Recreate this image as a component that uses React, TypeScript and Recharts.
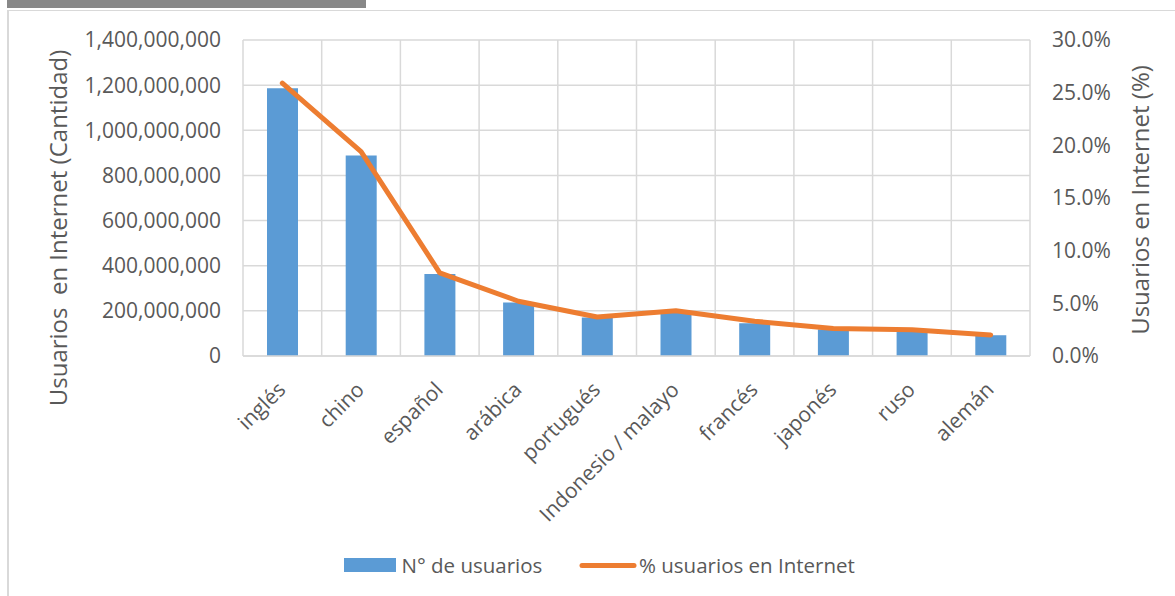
import React from 'react';
import { ComposedChart, Bar, Line, XAxis, YAxis, CartesianGrid, Customized } from 'recharts';

const categories = ['inglés', 'chino', 'español', 'arábica', 'portugués', 'Indonesio / malayo', 'francés', 'japonés', 'ruso', 'alemán'];
const usuarios = [1186000000, 888000000, 363000000, 237000000, 171000000, 198000000, 145000000, 118000000, 116000000, 92000000];
const porcentaje = [25.9, 19.4, 7.9, 5.2, 3.7, 4.3, 3.3, 2.6, 2.5, 2.0];
const leftTicks = [0, 200000000, 400000000, 600000000, 800000000, 1000000000, 1200000000, 1400000000];
const rightTicks = [0, 5, 10, 15, 20, 25, 30];
const seriesNames = ['N° de usuarios', '% usuarios en Internet'];
const axisTitles = ['Usuarios  en Internet (Cantidad)', 'Usuarios en Internet (%)'];

const data = categories.map((c, i) => ({ name: c, users: usuarios[i], pct: porcentaje[i] }));

const FONT = '"Open Sans", sans-serif';
const TEXT = '#595959';
const GRID = '#D9D9D9';
const BLUE = '#5B9BD5';
const ORANGE = '#ED7D31';

const XTick = (props: any) => {
  const { x, y, payload } = props;
  return (
    <g transform={`translate(${x + 4.5},${y + 35})`}>
      <text x={0} y={0} textAnchor="end" transform="rotate(-45)" fill={TEXT} fontSize={21} fontFamily={FONT}>
        {payload.value}
      </text>
    </g>
  );
};

const LegendDraw = () => (
  <g fontFamily={FONT} fontSize={20.5} fill={TEXT}>
    <rect x={344} y={558} width={52} height={14} fill={BLUE} />
    <text x={401.5} y={565} dominantBaseline="central">{seriesNames[0]}</text>
    <line x1={582} y1={565.5} x2={634} y2={565.5} stroke={ORANGE} strokeWidth={5} strokeLinecap="round" />
    <text x={639} y={565} dominantBaseline="central">{seriesNames[1]}</text>
  </g>
);

const LeftTitle = () => (
  <text x={57} y={228} transform="rotate(-90 57 228)" textAnchor="middle" dominantBaseline="central"
    fill={TEXT} fontSize={24} fontFamily={FONT} style={{ whiteSpace: 'pre' }}>
    {axisTitles[0]}
  </text>
);

const RightTitle = () => (
  <text x={1139} y={200} transform="rotate(-90 1139 200)" textAnchor="middle" dominantBaseline="central"
    fill={TEXT} fontSize={24} fontFamily={FONT}>
    {axisTitles[1]}
  </text>
);

export default function App() {
  return (
    <div style={{ position: 'absolute', left: 0, top: 0, width: 1175, height: 596, background: '#fff', overflow: 'hidden' }}>
      <div style={{ position: 'absolute', left: 7, top: 0, width: 359, height: 8, background: '#888888' }} />
      <div style={{ position: 'absolute', left: 7, top: 10, width: 1175, height: 600, borderTop: `1px solid ${GRID}`, borderLeft: `2px solid ${GRID}`, boxSizing: 'border-box' }} />
      <div style={{ position: 'absolute', left: 0, top: 0 }}>
        <ComposedChart width={1175} height={596} data={data} margin={{ top: 40, right: 0, bottom: 0, left: 0 }}>
          <CartesianGrid
            yAxisId="left"
            stroke={GRID}
            strokeWidth={1.5}
            verticalCoordinatesGenerator={({ offset }: any) =>
              categories.map((_, i) => offset.left + (i * offset.width) / categories.length).concat([offset.left + offset.width])
            }
          />
          <XAxis
            dataKey="name"
            height={240}
            interval={0}
            tickLine={false}
            tickSize={0}
            tickMargin={0}
            axisLine={{ stroke: GRID, strokeWidth: 1.5 }}
            tick={<XTick />}
          />
          <YAxis
            yAxisId="left"
            width={243}
            domain={[0, 1400000000]}
            ticks={leftTicks}
            interval={0}
            axisLine={false}
            tickLine={false}
            tickSize={0}
            tickMargin={22}
            tick={{ fill: TEXT, fontSize: 21, fontFamily: FONT }}
            tickFormatter={(v: number) => v.toLocaleString('en-US')}
          />
          <YAxis
            yAxisId="right"
            orientation="right"
            width={145}
            domain={[0, 30]}
            ticks={rightTicks}
            interval={0}
            axisLine={false}
            tickLine={false}
            tickSize={0}
            tickMargin={22}
            tick={{ fill: TEXT, fontSize: 21, fontFamily: FONT, textAnchor: 'start' }}
            tickFormatter={(v: number) => v.toFixed(1) + '%'}
          />
          <Bar yAxisId="left" dataKey="users" name={seriesNames[0]} fill={BLUE} barSize={31} isAnimationActive={false} />
          <Line yAxisId="right" dataKey="pct" name={seriesNames[1]} stroke={ORANGE} strokeWidth={5} strokeLinecap="round" strokeLinejoin="round" dot={false} activeDot={false} isAnimationActive={false} />
          <Customized component={LeftTitle} />
          <Customized component={RightTitle} />
          <Customized component={LegendDraw} />
        </ComposedChart>
      </div>
    </div>
  );
}
